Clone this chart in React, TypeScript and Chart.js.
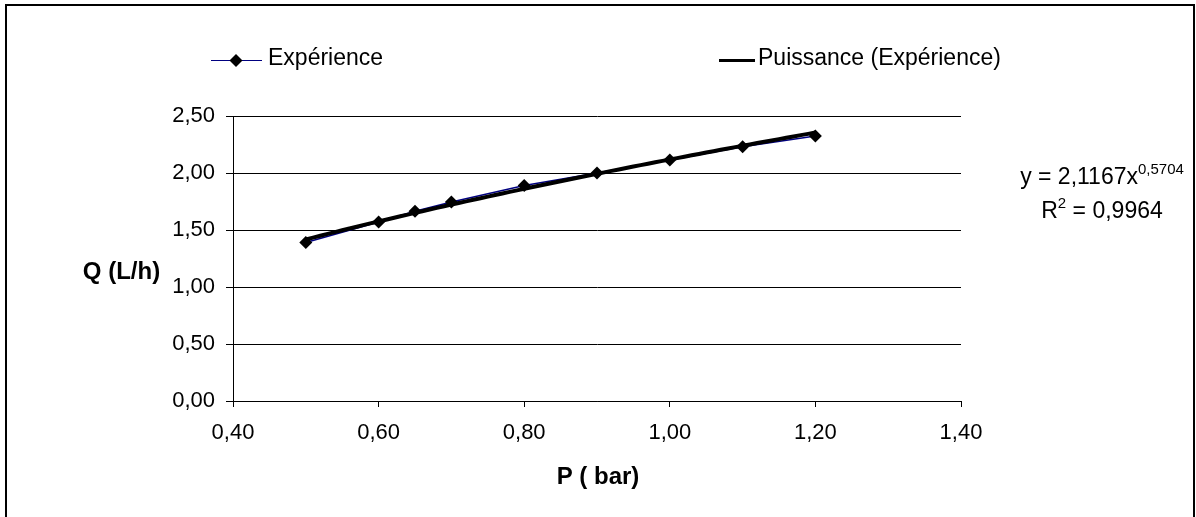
import React, { useEffect, useRef } from 'react';
import { Chart, registerables } from 'chart.js';

Chart.register(...registerables);

// ---- data ----
const pressureBar = [0.5, 0.6, 0.65, 0.7, 0.8, 0.9, 1.0, 1.1, 1.2];
const flowLh = [1.39, 1.57, 1.665, 1.745, 1.89, 2.0, 2.115, 2.23, 2.325];
const seriesLabel = 'Expérience';
const trendLabel = 'Puissance (Expérience)';
const xTitle = 'P ( bar)';
const yTitle = 'Q (L/h)';
const equationMain = 'y = 2,1167x';
const equationExp = '0,5704';
const r2Main = 'R';
const r2Sup = '2';
const r2Rest = ' = 0,9964';

const FONT = "'Liberation Sans', Arial, sans-serif";

// power trendline fitted (least squares in log space) on the experiment data
function powerFit(xs: number[], ys: number[]) {
  const n = xs.length;
  let sx = 0, sy = 0, sxx = 0, sxy = 0;
  for (let i = 0; i < n; i++) {
    const lx = Math.log(xs[i]);
    const ly = Math.log(ys[i]);
    sx += lx; sy += ly; sxx += lx * lx; sxy += lx * ly;
  }
  const b = (n * sxy - sx * sy) / (n * sxx - sx * sx);
  const a = Math.exp((sy - b * sx) / n);
  return { a, b };
}

function trendPoints() {
  const { a, b } = powerFit(pressureBar, flowLh);
  const lo = pressureBar[0];
  const hi = pressureBar[pressureBar.length - 1];
  const pts: { x: number; y: number }[] = [];
  const steps = 70;
  for (let i = 0; i <= steps; i++) {
    const x = lo + ((hi - lo) * i) / steps;
    pts.push({ x, y: a * Math.pow(x, b) });
  }
  return pts;
}

const fmt = (v: number) => v.toFixed(2).replace('.', ',');

const overlay = {
  id: 'overlay',
  beforeDraw(chart: any) {
    const ctx = chart.ctx;
    ctx.save();
    ctx.fillStyle = '#fff';
    ctx.fillRect(0, 0, chart.width, chart.height);
    ctx.restore();
  },
  afterDraw(chart: any) {
    const ctx: CanvasRenderingContext2D = chart.ctx;
    ctx.save();
    // outer frame
    ctx.strokeStyle = '#000';
    ctx.lineWidth = 2;
    ctx.strokeRect(6, 5, 1188, 530);

    // legend: series
    ctx.strokeStyle = '#000080';
    ctx.lineWidth = 1.2;
    ctx.beginPath();
    ctx.moveTo(211, 60.5);
    ctx.lineTo(262, 60.5);
    ctx.stroke();
    ctx.fillStyle = '#000';
    ctx.beginPath();
    ctx.moveTo(236, 54);
    ctx.lineTo(242.5, 60.5);
    ctx.lineTo(236, 67);
    ctx.lineTo(229.5, 60.5);
    ctx.closePath();
    ctx.fill();
    ctx.font = `23px ${FONT}`;
    ctx.textBaseline = 'alphabetic';
    ctx.textAlign = 'left';
    ctx.fillText(seriesLabel, 268, 65);

    // legend: trend
    ctx.strokeStyle = '#000';
    ctx.lineWidth = 3;
    ctx.beginPath();
    ctx.moveTo(719, 60.5);
    ctx.lineTo(755, 60.5);
    ctx.stroke();
    ctx.fillText(trendLabel, 758, 65);

    // equation
    const cx = 1102;
    ctx.font = `23px ${FONT}`;
    const w1 = ctx.measureText(equationMain).width;
    ctx.font = `15px ${FONT}`;
    const w2 = ctx.measureText(equationExp).width;
    let x0 = cx - (w1 + w2) / 2;
    ctx.font = `23px ${FONT}`;
    ctx.fillText(equationMain, x0, 184);
    ctx.font = `15px ${FONT}`;
    ctx.fillText(equationExp, x0 + w1, 174);

    ctx.font = `23px ${FONT}`;
    const r1 = ctx.measureText(r2Main).width;
    const r3 = ctx.measureText(r2Rest).width;
    ctx.font = `15px ${FONT}`;
    const r2 = ctx.measureText(r2Sup).width;
    x0 = cx - (r1 + r2 + r3) / 2;
    ctx.font = `23px ${FONT}`;
    ctx.fillText(r2Main, x0, 218);
    ctx.font = `15px ${FONT}`;
    ctx.fillText(r2Sup, x0 + r1, 208);
    ctx.font = `23px ${FONT}`;
    ctx.fillText(r2Rest, x0 + r1 + r2, 218);

    // axis titles
    ctx.font = `bold 24px ${FONT}`;
    ctx.textAlign = 'center';
    ctx.fillText(yTitle, 121.5, 279);
    ctx.fillText(xTitle, 598, 484);
    ctx.restore();
  },
};

export default function App() {
  const ref = useRef<HTMLCanvasElement | null>(null);
  useEffect(() => {
    if (!ref.current) return;
    const chart = new Chart(ref.current, {
      type: 'scatter',
      data: {
        datasets: [
          {
            label: trendLabel,
            data: trendPoints(),
            showLine: true,
            borderColor: '#000',
            borderWidth: 4,
            pointRadius: 0,
            tension: 0,
            fill: false,
          },
          {
            label: seriesLabel,
            data: pressureBar.map((x, i) => ({ x, y: flowLh[i] })),
            showLine: true,
            borderColor: '#000080',
            borderWidth: 1.5,
            pointStyle: 'rectRot',
            pointRadius: 6.5,
            pointBackgroundColor: '#000',
            pointBorderColor: '#000',
            pointBorderWidth: 0,
            tension: 0,
            fill: false,
          },
        ],
      },
      options: {
        responsive: false,
        animation: false,
        devicePixelRatio: 1,
        layout: { padding: { left: 0, right: 235, top: 116, bottom: 0 } },
        plugins: {
          legend: { display: false },
          tooltip: { enabled: false },
          title: { display: false },
        },
        scales: {
          x: {
            type: 'linear',
            min: 0.4,
            max: 1.4,
            afterFit: (s: any) => { s.height = 116; },
            ticks: {
              stepSize: 0.2,
              color: '#000',
              padding: 13,
              font: { family: FONT, size: 22 },
              callback: (v: any) => fmt(Number(v)),
              maxRotation: 0,
              autoSkip: false,
            },
            grid: { drawOnChartArea: false, drawTicks: true, tickLength: 6, color: '#000', lineWidth: 1 },
            border: { display: true, color: '#000', width: 1 },
          },
          y: {
            type: 'linear',
            min: 0,
            max: 2.5,
            afterFit: (s: any) => { s.width = 233; },
            ticks: {
              stepSize: 0.5,
              color: '#000',
              padding: 11,
              font: { family: FONT, size: 22 },
              callback: (v: any) => fmt(Number(v)),
            },
            grid: { drawOnChartArea: true, drawTicks: true, tickLength: 7, color: '#000', lineWidth: 1 },
            border: { display: true, color: '#000', width: 1 },
          },
        },
      },
      plugins: [overlay],
    });
    return () => chart.destroy();
  }, []);
  return (
    <div style={{ position: 'fixed', left: 0, top: 0, width: 1196, height: 517, background: '#fff' }}>
      <canvas ref={ref} width={1196} height={517} style={{ width: 1196, height: 517, display: 'block' }} />
    </div>
  );
}
